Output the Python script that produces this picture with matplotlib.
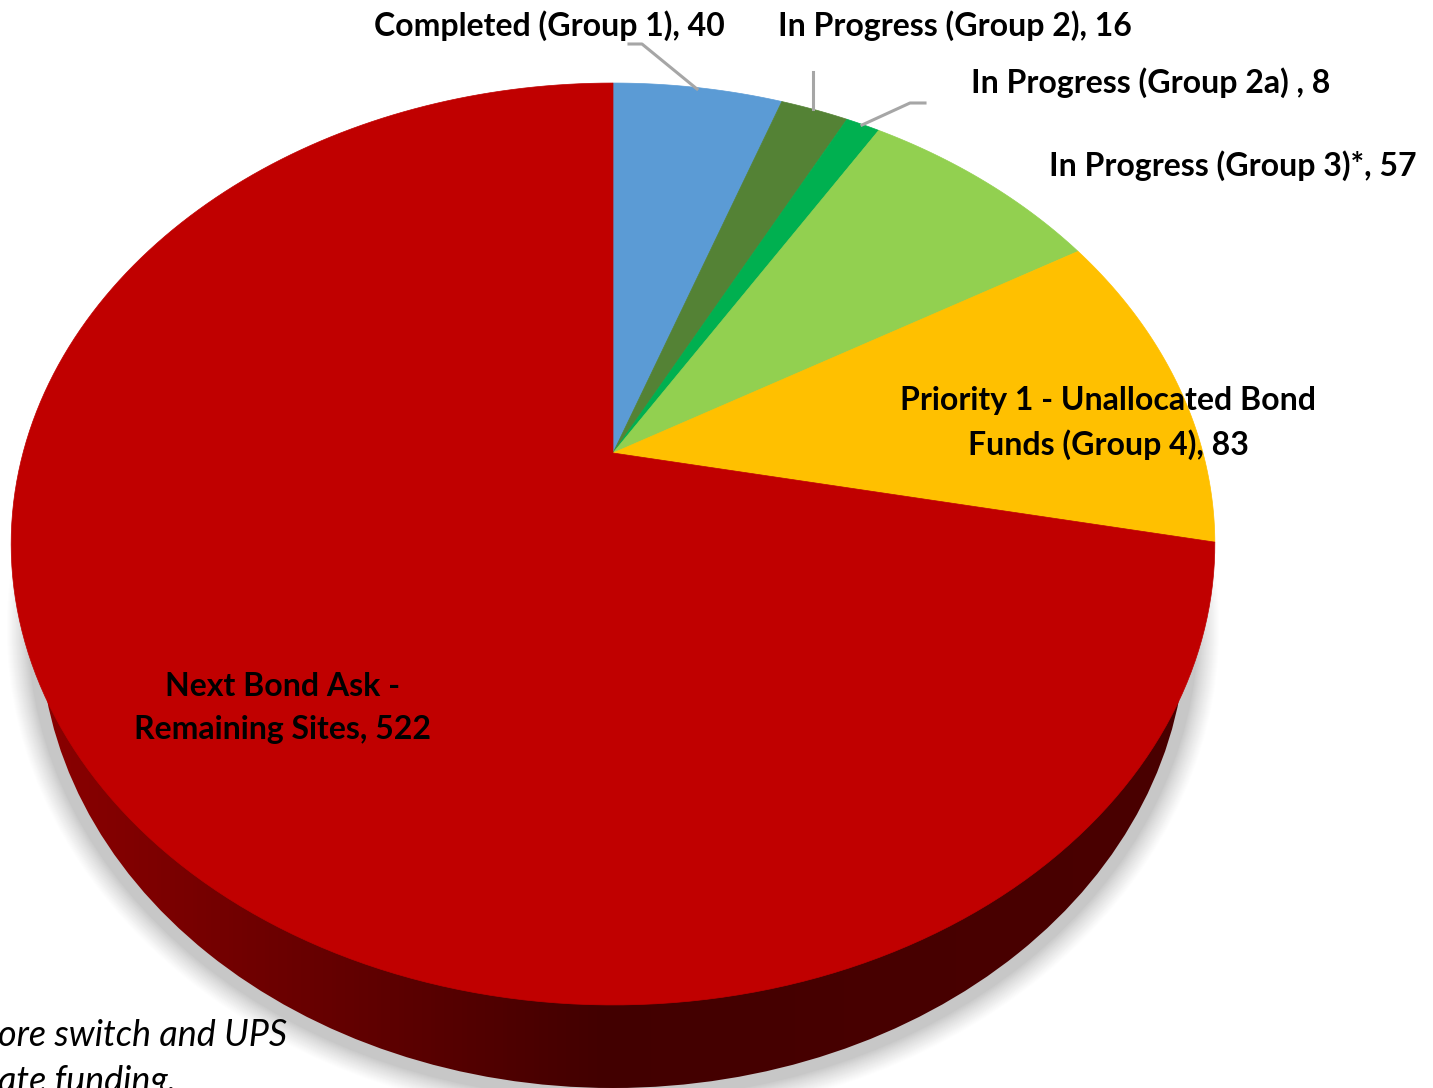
import numpy as np
import matplotlib
matplotlib.use('Agg')
import matplotlib.pyplot as plt
from matplotlib.colors import LinearSegmentedColormap
from matplotlib.patches import Ellipse

# slices, clockwise from 12 o'clock
names = ['Completed (Group 1)', 'In Progress (Group 2)', 'In Progress (Group 2a) ',
         'In Progress (Group 3)*', 'Priority 1 - Unallocated Bond\nFunds (Group 4)',
         'Next Bond Ask -\nRemaining Sites']
values = [40, 16, 8, 57, 83, 522]
colors = ['#5B9BD5', '#548235', '#00B050', '#92D050', '#FFC000', '#C00000']
label_x = [549, 955, 1151, 1233, 1108, 283]
label_y = [26, 26, 83, 166, 423, 708]
note_lines = ['ore switch and UPS', 'ate funding.']

# perspective of the tilted pie, in pixels
APEX = (613, 453)
A, B, K = 590, 443, 0.1974


def project(angle):
    px = np.sin(angle)
    py = np.cos(angle)
    w = 1 + K * py
    return APEX[0] + A * px / w, APEX[1] - B * py / w


fig = plt.figure(figsize=(14.33, 10.88), dpi=100)
ax = fig.add_axes([0, 0, 1, 1])
ax.set_xlim(0, 1433)
ax.set_ylim(1088, 0)
ax.axis('off')

# soft shadow under the base
for g in np.arange(34, 0, -1):
    level = 0.78 + 0.22 * np.clip((g - 12) / 22, 0, 1) ** 0.8
    ax.add_patch(Ellipse((613, 628), 2 * (573 + g), 2 * (460 + g), color=str(level), lw=0, zorder=1))

# side of the pie, darker to the right
base = Ellipse((613, 628), 2 * 573, 2 * 460, color='none', lw=0, zorder=2)
ax.add_patch(base)
side = LinearSegmentedColormap.from_list('side', [
    (0.0, '#8A0000'), (0.08, '#800000'), (0.18, '#700000'), (0.31, '#5C0000'),
    (0.49, '#420000'), (0.7, '#470000'), (1.0, '#4A0000')])
img = ax.imshow(np.linspace(0, 1, 256).reshape(1, -1), cmap=side, aspect='auto',
                extent=(40, 1190, 1090, 600), zorder=2)
img.set_clip_path(base)
ax.set_xlim(0, 1433)
ax.set_ylim(1088, 0)

# top face
edges = np.cumsum([0] + values) / sum(values) * 2 * np.pi
for i in range(len(values)):
    ang = np.linspace(edges[i], edges[i + 1], 200)
    xs, ys = project(ang)
    ax.fill(np.r_[APEX[0], xs], np.r_[APEX[1], ys], color=colors[i], lw=0.5, zorder=3)

# leader lines
grey = '#A6A6A6'
ax.plot([629, 642, 697], [44, 44, 89], color=grey, lw=2.2, zorder=4)
ax.plot([813, 813], [72, 109], color=grey, lw=2.2, zorder=4)
ax.plot([925, 910, 862], [103, 103, 125], color=grey, lw=2.2, zorder=4)

font = 'Lato'
for i in range(len(values)):
    ax.text(label_x[i], label_y[i], f'{names[i]}, {values[i]}', ha='center', va='center',
            fontsize=23, fontweight='bold', family=font, linespacing=1.58, color='black', zorder=5)

ax.text(-2, 1036, note_lines[0], ha='left', va='center', fontsize=25.8, style='italic', family=font, zorder=5)
ax.text(-2, 1081, note_lines[1], ha='left', va='center', fontsize=25.8, style='italic', family=font, zorder=5)

fig.savefig('out.png', dpi=100)
